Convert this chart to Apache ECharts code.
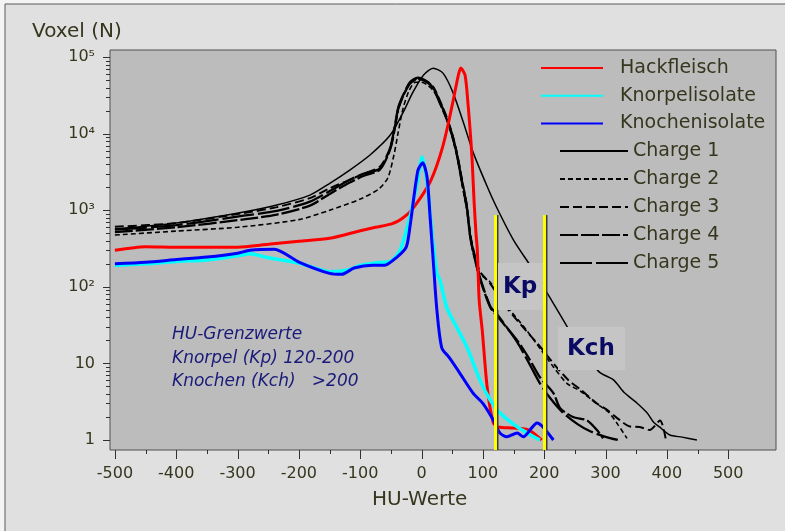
<!DOCTYPE html>
<html><head><meta charset="utf-8">
<script src="https://cdn.jsdelivr.net/npm/echarts@6/dist/echarts.min.js"></script>
<style>html,body{margin:0;padding:0;background:#f4f4f4}#c{width:785px;height:531px}</style>
</head><body><div id="c"></div>
<script>
// ---- data (HU-Werte, Voxel N) ----
const xTickLabels = [-500,-400,-300,-200,-100,0,100,200,300,400,500];
const yTickLabels = {0:'1',1:'10',2:'10²',3:'10³',4:'10⁴',5:'10⁵'};

const hackX = [-500,-450,-400,-350,-300,-250,-200,-150,-100,-75,-50,-40,-30,-19,-2,14,25,35,43,51,60,64,71,76,82,86,89,91,94,99,107,117,125,150,175,196];
const hackY = [300,335,330,330,330,360,395,430,540,600,660,710,800,950,1440,2340,3860,7000,12900,25800,58000,72000,58000,23400,5300,1170,475,300,67,27,4.9,1.67,1.48,1.43,1.35,1.0];

const knorpX = [-500,-450,-400,-350,-300,-280,-250,-200,-150,-120,-100,-75,-50,-35,-19,-7,1,9,17,25,30,41,51,74,95,112,128,156,175,193];
const knorpY = [190,200,215,225,255,270,240,205,158,166,190,205,217,300,815,2270,4950,2270,505,150,122,54,37,16.4,6.1,3.33,2.25,1.48,1.2,1.0];

const knochX = [-500,-450,-400,-350,-300,-280,-240,-200,-150,-130,-110,-80,-60,-40,-25,-19,-6,2,9,14,19,25,33,45,60,84,100,117,128,139,156,166,180,188,198,215];
const knochY = [200,210,227,245,275,300,310,211,150,146,176,192,192,245,330,600,3300,4170,2700,810,225,50,16,12,8,4.1,3.0,1.82,1.23,1.1,1.23,1.1,1.45,1.67,1.48,1.0];

const ch1X = [-500,-400,-290,-236,-182,-149,-117,-84,-51,-30,-14,3,19,35,51,68,84,106,123,150,180,205,236,260,290,313,330,352,368,378,388,405,425,449];
const ch1Y = [568,681,948,1170,1580,2270,3350,5270,9600,19000,34900,58200,71800,61900,34900,14200,5750,2140,1070,408,176,83,31.7,15,7.7,6.1,4.2,3.0,2.25,1.72,1.48,1.16,1.09,1.0];

const ch2X = [-500,-400,-300,-200,-150,-100,-70,-55,-45,-38,-30,-20,-10,0,10,20,30,41,50,58,66,74,79,84,95,112,140,170,195,215,237,260,285,305,320,335];
const ch2Y = [475,535,600,755,1000,1400,1890,2640,5270,10500,21600,37000,47000,47000,43000,36000,26000,15500,9000,5000,2200,1000,480,300,150,115,55,28,15,9,5.5,4.3,3.0,2.3,1.6,1.05];

const ch3X = [-500,-400,-290,-236,-182,-149,-117,-95,-68,-51,-43,-38,-30,-19,-6,9,19,30,41,50,58,66,74,79,84,95,112,140,170,195,215,240,260,286,302,320,340,356,372,389,398];
const ch3Y = [610,680,920,1100,1440,1950,2500,3000,3700,6500,13000,21000,31000,46000,53000,48000,41000,27000,16500,10000,5500,2500,1150,520,320,160,110,52,27,16,10,6,4.5,3.0,2.5,1.9,1.5,1.48,1.35,1.8,1.05];

const ch4X = [-500,-400,-290,-236,-182,-149,-117,-95,-68,-51,-43,-38,-30,-19,-6,9,19,30,41,50,58,66,74,79,84,95,112,125,156,177,193,215,226,247,270,286,296];
const ch4Y = [520,600,760,880,1150,1650,2300,2800,3400,6300,12500,21000,31000,45000,52000,47000,39000,25000,15500,9400,5100,2300,1050,470,290,130,54,40,20,11,6.6,4.1,2.6,2.0,1.8,1.35,1.05];

const ch5X = [-500,-400,-290,-236,-182,-149,-117,-95,-68,-51,-43,-38,-30,-19,-6,9,19,30,41,50,58,66,74,79,84,95,112,125,156,177,193,210,230,255,275,300,320];
const ch5Y = [560,640,850,980,1300,1800,2500,3000,3500,6600,13500,22000,32000,47000,54000,48000,40000,26000,16000,9700,5300,2400,1100,480,300,135,56,42,19,9.5,5.5,3.5,2.3,1.6,1.3,1.1,1.0];

const limitX = [120, 200];      // HU-Grenzwerte Kp / Kch
const limitTop = 866;

// ---- chart ----
const X_MIN = -508, X_MAX = 578, Y_MIN = 0.74, Y_MAX = 124000;
const TXT = '#36361e', FONT = 'DejaVu Sans';
const zip = (xs, ys) => xs.map((x, i) => [x, ys[i]]);

function lineSeries(name, xs, ys, color, width, dash) {
  return {
    name, type: 'line', data: zip(xs, ys), symbol: 'none', smooth: 0.25,
    lineStyle: { color, width, type: dash || 'solid' }, itemStyle: { color },
    emphasis: { disabled: true }, silent: true, z: 2
  };
}
const hiddenSymbol = { color: 'rgba(0,0,0,0)', borderWidth: 0, opacity: 0 };

const chart = echarts.init(document.getElementById('c'), null, { renderer: 'canvas' });
const option = {
  backgroundColor: '#f4f4f4',
  animation: false,
  grid: { left: 110, right: 9, top: 50, bottom: 81, show: true, backgroundColor: '#bcbcbc', borderColor: '#505050', borderWidth: 1 },
  xAxis: {
    type: 'value', min: X_MIN, max: X_MAX,
    axisLine: { show: false }, axisTick: { show: false }, splitLine: { show: false },
    axisLabel: { customValues: xTickLabels, margin: 16, fontSize: 16, fontFamily: FONT, color: TXT }
  },
  yAxis: {
    type: 'log', logBase: 10, min: Y_MIN, max: Y_MAX,
    axisLine: { show: false }, axisTick: { show: false }, splitLine: { show: false }, minorTick: { show: false },
    axisLabel: {
      showMinLabel: false, showMaxLabel: false, margin: 15, fontSize: 16, fontFamily: FONT, color: TXT,
      formatter: v => { const e = Math.round(Math.log10(v)); return Math.abs(Math.log10(v) - e) < 1e-6 ? (yTickLabels[e] || '') : ''; }
    }
  },
  legend: [
    { data: ['Hackfleisch', 'Knorpelisolate', 'Knochenisolate'], orient: 'vertical', left: 535, top: 53,
      itemWidth: 62, itemHeight: 20, itemGap: 7.7, selectedMode: false, formatter: n => '  ' + n,
      itemStyle: hiddenSymbol,
      textStyle: { fontSize: 19, fontFamily: FONT, color: TXT, lineHeight: 20 } },
    { data: ['Charge 1', 'Charge 2', 'Charge 3', 'Charge 4', 'Charge 5'], orient: 'vertical', left: 554, top: 136,
      itemWidth: 68, itemHeight: 20, itemGap: 8, selectedMode: false,
      itemStyle: hiddenSymbol,
      textStyle: { fontSize: 19, fontFamily: FONT, color: TXT, lineHeight: 20 } }
  ],
  series: [
    lineSeries('Charge 1', ch1X, ch1Y, '#000', 1.5),
    lineSeries('Charge 2', ch2X, ch2Y, '#000', 1.6, [5, 3]),
    lineSeries('Charge 3', ch3X, ch3Y, '#000', 2, [9, 4]),
    lineSeries('Charge 4', ch4X, ch4Y, '#000', 2.3, [18, 3]),
    lineSeries('Charge 5', ch5X, ch5Y, '#000', 2.3, [32, 4]),
    lineSeries('Hackfleisch', hackX, hackY, '#ff0000', 3),
    lineSeries('Knorpelisolate', knorpX, knorpY, '#00ffff', 3.5),
    lineSeries('Knochenisolate', knochX, knochY, '#0000ff', 3),
    { name: 'limits', type: 'line', data: [], z: 10, silent: true,
      markLine: { silent: true, symbol: 'none', label: { show: false }, animation: false,
        lineStyle: { color: '#ffff00', width: 3, type: 'solid', shadowColor: '#3a3a3a', shadowOffsetX: 1.5, shadowBlur: 0 },
        data: limitX.map(x => [{ coord: [x, Y_MIN] }, { coord: [x, limitTop] }]) } }
  ]
};
chart.setOption(option);

// ticks computed through the axes' scales
const els = [];
els.push({ type: 'rect', z: -10, shape: { x: 5, y: 4, width: 800, height: 560 }, style: { fill: '#e0e0e0', stroke: '#5a5a5a', lineWidth: 1 } });
const yBottom = chart.convertToPixel({ yAxisIndex: 0 }, Y_MIN);
const xLeft = chart.convertToPixel({ xAxisIndex: 0 }, X_MIN);
for (let v = -500; v <= 500; v += 50) {
  const px = Math.round(chart.convertToPixel({ xAxisIndex: 0 }, v)) + 0.5;
  const len = v % 100 === 0 ? 9 : 4;
  els.push({ type: 'line', z: 3, shape: { x1: px, y1: yBottom, x2: px, y2: yBottom + len }, style: { stroke: '#303030', lineWidth: 1 } });
}
for (let d = 0; d <= 5; d++) {
  for (let k = 1; k <= 9; k++) {
    const v = k * Math.pow(10, d);
    if (v > 100000) break;
    const py = Math.round(chart.convertToPixel({ yAxisIndex: 0 }, v)) + 0.5;
    const len = k === 1 ? 7 : 4;
    els.push({ type: 'line', z: 3, shape: { x1: xLeft - len, y1: py, x2: xLeft, y2: py }, style: { stroke: '#303030', lineWidth: 1 } });
  }
}
// label boxes and texts
els.push({ type: 'rect', z: 5, shape: { x: 498, y: 263, width: 45, height: 47 }, style: { fill: '#c5c5c5' } });
els.push({ type: 'rect', z: 5, shape: { x: 558, y: 327, width: 67, height: 43 }, style: { fill: '#c5c5c5' } });
els.push({ type: 'text', z: 12, style: { text: 'Kp', x: 503, y: 287, verticalAlign: 'middle', fontSize: 23, fontWeight: 'bold', fontFamily: FONT, fill: '#0a0a64' } });
els.push({ type: 'text', z: 12, style: { text: 'Kch', x: 567, y: 349, verticalAlign: 'middle', fontSize: 23, fontWeight: 'bold', fontFamily: FONT, fill: '#0a0a64' } });
els.push({ type: 'text', z: 12, style: { text: 'Voxel (N)', x: 32, y: 32, verticalAlign: 'middle', fontSize: 20, fontFamily: FONT, fill: TXT } });
els.push({ type: 'text', z: 12, style: { text: 'HU-Werte', x: 372, y: 500, verticalAlign: 'middle', fontSize: 20, fontFamily: FONT, fill: TXT } });
const notes = ['HU-Grenzwerte', 'Knorpel (Kp) 120-200', 'Knochen (Kch)   >200'];
notes.forEach((t, i) => els.push({ type: 'text', z: 12, style: { text: t, x: 172, y: 335 + i * 23.5, verticalAlign: 'middle', fontSize: 17, fontStyle: 'italic', fontFamily: FONT, fill: '#1a1a7a' } }));
chart.setOption({ graphic: { elements: els } });
</script>
</body></html>
